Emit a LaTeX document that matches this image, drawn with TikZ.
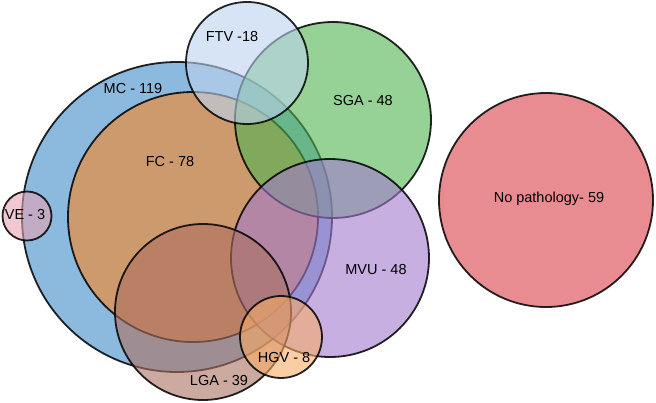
\documentclass[tikz,border=0pt]{standalone}
\usepackage{fontspec}
\setmainfont{Liberation Sans}
\definecolor{mccol}{RGB}{63,138,200}
\definecolor{fccol}{RGB}{248,135,35}
\definecolor{sgacol}{RGB}{80,180,80}
\definecolor{mvucol}{RGB}{163,122,205}
\definecolor{npcol}{RGB}{217,63,72}
\definecolor{ftvcol}{RGB}{188,210,238}
\definecolor{hgvcol}{RGB}{247,172,105}
\definecolor{lgacol}{RGB}{172,113,97}
\definecolor{vecol}{RGB}{230,163,180}
\begin{document}
\begin{tikzpicture}[x=1pt,y=-1pt,
  venn/.style={circle, inner sep=0pt, draw=black, draw opacity=0.85, line width=1.8pt, fill opacity=0.6},
  lbl/.style={font=\fontsize{14.5}{17}\selectfont, text=black, inner sep=0pt}]
\useasboundingbox (0,0) rectangle (656,402);
\node[venn, fill=mccol, minimum size=310pt] (mc) at (177,217) {};
\node[venn, fill=fccol, minimum size=250pt] (fc) at (193,217) {};
\node[venn, fill=sgacol, minimum size=196pt] (sga) at (333,120) {};
\node[venn, fill=mvucol, minimum size=198pt] (mvu) at (330,258) {};
\node[venn, fill=ftvcol, minimum size=122pt] (ftv) at (247,63) {};
\node[venn, fill=lgacol, minimum size=176pt] (lga) at (203,312) {};
\node[venn, fill=hgvcol, minimum size=82pt] (hgv) at (281,337) {};
\node[venn, fill=vecol, minimum size=49pt] (ve) at (27,216) {};
\node[venn, fill=npcol, minimum size=214pt] (np) at (546,200) {};
\node[lbl] (lmc) at (133,89) {MC - 119};
\node[lbl] (lfc) at (170,162) {FC - 78};
\node[lbl] (lftv) at (232,37) {FTV -18};
\node[lbl] (lsga) at (363,101) {SGA - 48};
\node[lbl] (lmvu) at (376,270) {MVU - 48};
\node[lbl] (llga) at (219,381) {LGA - 39};
\node[lbl] (lhgv) at (284,358) {HGV - 8};
\node[lbl] (lve) at (25,215) {VE - 3};
\node[lbl] (lnp) at (549,199) {No pathology- 59};
\end{tikzpicture}
\end{document}
